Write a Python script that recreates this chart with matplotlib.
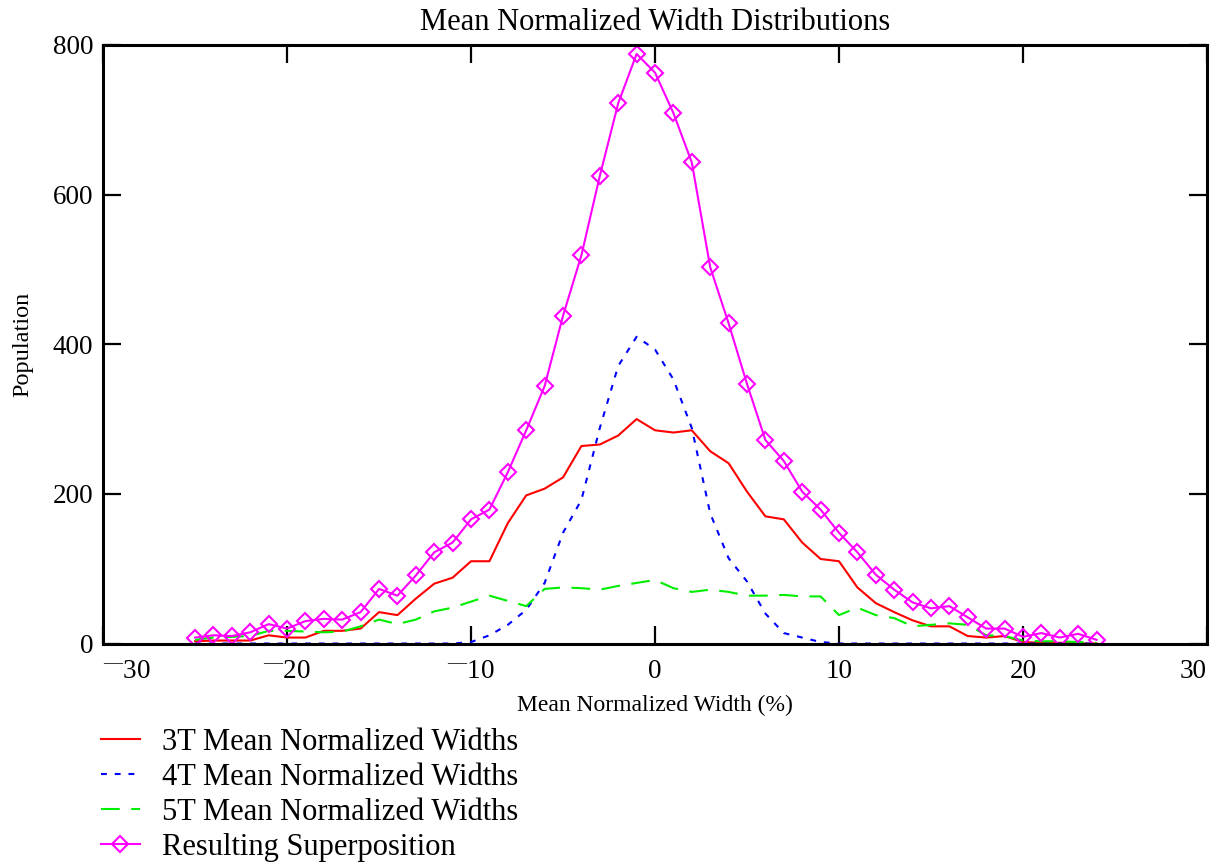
import matplotlib
matplotlib.use("Agg")
import matplotlib.pyplot as plt
from matplotlib.ticker import FixedLocator, FixedFormatter

plt.rcParams['font.family'] = ['Liberation Serif', 'DejaVu Serif']
plt.rcParams['mathtext.fontset'] = 'custom'
plt.rcParams['mathtext.rm'] = 'Liberation Serif'

x = list(range(-25, 25))

red_3t = [3, 4, 4, 4, 11, 8, 8, 17, 17, 20, 42, 38, 60, 80, 88, 110, 110, 161, 198, 207,
          222, 264, 266, 278, 300, 285, 282, 285, 257, 241, 203, 170, 166, 135, 113, 110,
          75, 54, 42, 31, 23, 23, 10, 8, 10, 2, 1, 1, 0, 0]
blue_4t = [0] * 15 + [2, 11, 25, 45, 81, 148, 192, 288, 371, 410, 393, 353, 288, 174, 114,
                      83, 40, 14, 8, 2] + [0] * 15
green_5t = [5, 8, 9, 10, 17, 17, 16, 15, 16, 23, 32, 26, 32, 43, 48, 56, 64, 57, 50, 73,
            75, 74, 72, 77, 81, 85, 74, 69, 72, 69, 64, 64, 65, 63, 63, 38, 48, 38, 34, 23,
            25, 27, 25, 11, 10, 4, 3, 3, 2, 1]
superpos = [8, 11, 10, 15, 26, 20, 30, 33, 32, 42, 73, 64, 91, 122, 135, 166, 179, 229, 285,
            344, 438, 519, 625, 722, 788, 763, 709, 643, 503, 428, 347, 272, 244, 203, 179,
            148, 122, 92, 72, 55, 47, 50, 35, 20, 20, 9, 14, 8, 13, 5]

labels = ["3T Mean Normalized Widths", "4T Mean Normalized Widths",
          "5T Mean Normalized Widths", "Resulting Superposition"]

xticks = [-30, -20, -10, 0, 10, 20, 30]
neg = "$\\mathregular{^{\u2014}}$"
xticklabels = [neg + "30", neg + "20", neg + "10", "0", "10", "20", "30"]
yticks = [0, 200, 400, 600, 800]

fig = plt.figure(figsize=(12.21, 8.63), dpi=100)
ax = fig.add_axes([0.0844, 0.2543, 0.9041, 0.6936])

l1, = ax.plot(x, red_3t, color='#ff0000', lw=1.5, label=labels[0])
l2, = ax.plot(x, blue_4t, color='#0000ff', lw=1.5, dashes=(2.8, 3.8), label=labels[1])
l3, = ax.plot(x, green_5t, color='#00ee00', lw=1.5, dashes=(9, 5.5), label=labels[2])
l4, = ax.plot(x, superpos, color='#ff00ff', lw=1.5, marker='D', markersize=8.5,
              markerfacecolor='none', markeredgecolor='#ff00ff', markeredgewidth=1.5,
              label=labels[3])

ax.set_xlim(-30, 30)
ax.set_ylim(0, 800)
ax.xaxis.set_major_locator(FixedLocator(xticks))
ax.xaxis.set_major_formatter(FixedFormatter(xticklabels))
ax.set_yticks(yticks)
ax.tick_params(axis='both', direction='in', length=13, width=1.6, labelsize=19.5,
               top=True, right=True)
ax.tick_params(axis='x', pad=11)
ax.tick_params(axis='y', pad=7)
for s in ax.spines.values():
    s.set_linewidth(2.2)

tl = ax.get_xticklabels()
tl[0].set_horizontalalignment('left')
tl[-1].set_horizontalalignment('right')

ax.set_title("Mean Normalized Width Distributions", fontsize=22, pad=11)
ax.set_xlabel("Mean Normalized Width (%)", fontsize=17, labelpad=8)
ax.set_ylabel("Population", fontsize=17.5, labelpad=14)

fig.legend(handles=[l1, l2, l3, l4], loc='upper left', bbox_to_anchor=(0.083, 0.157),
           frameon=False, fontsize=22, handlelength=1.25, handletextpad=0.75,
           labelspacing=0.2, borderpad=0, borderaxespad=0)

fig.savefig("out.png", dpi=100)
